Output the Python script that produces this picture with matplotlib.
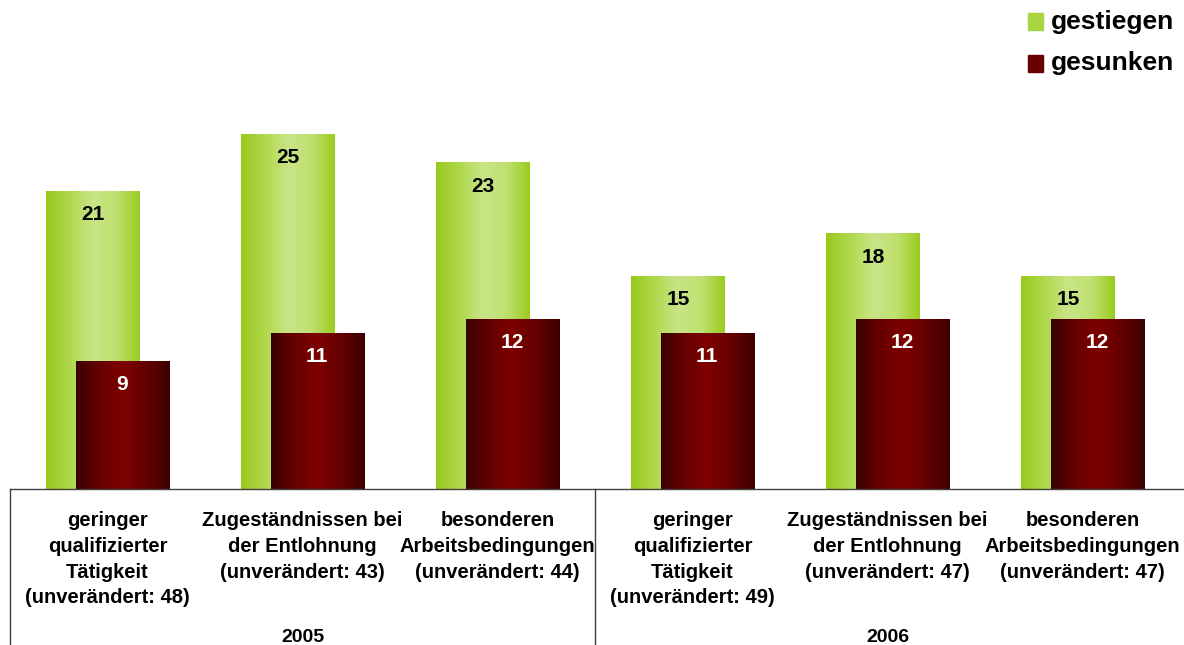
import numpy as np
import matplotlib.pyplot as plt
from matplotlib.colors import LinearSegmentedColormap
from matplotlib.patches import Rectangle

plt.rcParams['font.family'] = ['Liberation Sans', 'DejaVu Sans']
plt.rcParams['font.weight'] = 'bold'

categories = [
    'geringer\nqualifizierter\nTätigkeit\n(unverändert: 48)',
    'Zugeständnissen bei\nder Entlohnung\n(unverändert: 43)',
    'besonderen\nArbeitsbedingungen\n(unverändert: 44)',
    'geringer\nqualifizierter\nTätigkeit\n(unverändert: 49)',
    'Zugeständnissen bei\nder Entlohnung\n(unverändert: 47)',
    'besonderen\nArbeitsbedingungen\n(unverändert: 47)',
]
years = ['2005', '2006']
gestiegen = [21, 25, 23, 15, 18, 15]
gesunken = [9, 11, 12, 11, 12, 12]

green_cmap = LinearSegmentedColormap.from_list(
    'green', ['#98c81c', '#b0d84c', '#c8e587', '#bfe070', '#9acc1e'])
red_cmap = LinearSegmentedColormap.from_list(
    'red', ['#3a0000', '#660000', '#7e0000', '#640000', '#3c0000'])


def gradient_bars(axes, x, heights, width, cmap):
    bars = axes.bar(x, heights, width=width, color='none', edgecolor='none')
    grad = np.linspace(0, 1, 256).reshape(1, -1)
    for bar in bars:
        bx, by = bar.get_x(), bar.get_y()
        bw, bh = bar.get_width(), bar.get_height()
        img = axes.imshow(grad, cmap=cmap, aspect='auto',
                          extent=(bx, bx + bw, by, by + bh), zorder=bar.get_zorder())
        img.set_clip_path(bar)
    return bars


fig = plt.figure(figsize=(11.84, 6.45), dpi=100)
ax = fig.add_axes([10 / 1184, 1 - 489 / 645, 1170 / 1184, 426 / 645])

x = np.arange(len(categories))
offset = 0.0745
width = 0.477

gradient_bars(ax, x - offset, gestiegen, width, green_cmap)
gradient_bars(ax, x + offset, gesunken, width, red_cmap)

for xi, v in zip(x - offset, gestiegen):
    ax.annotate(str(v), (xi, v), xytext=(0, -17), textcoords='offset points',
                ha='center', va='center', fontsize=15, color='black')
for xi, v in zip(x + offset, gesunken):
    ax.annotate(str(v), (xi, v), xytext=(0, -17), textcoords='offset points',
                ha='center', va='center', fontsize=15, color='white')

ax.set_xlim(-0.5, 5.5)
ax.set_ylim(0, 30)
ax.axis('off')

# table box below the bars
ax.plot([-0.5, 5.6], [0, 0], color='#404040', lw=1, clip_on=False)
for xv in (-0.5, 2.5):
    ax.plot([xv, xv], [0, -12], color='#404040', lw=1, clip_on=False)

for xi, label in zip(x, categories):
    ax.text(xi, -1.55, label, ha='center', va='top', fontsize=14.5,
            linespacing=1.45, clip_on=False)
for xi, year in zip([1, 4], years):
    ax.text(xi, -10.45, year, ha='center', va='center', fontsize=14, clip_on=False)

# legend
fig.patches.append(Rectangle((1028 / 1184, 1 - 30 / 645), 15 / 1184, 17 / 645,
                             transform=fig.transFigure, color='#a8d640', figure=fig))
fig.patches.append(Rectangle((1028 / 1184, 1 - 72 / 645), 15 / 1184, 17 / 645,
                             transform=fig.transFigure, color='#6a0000', figure=fig))
fig.text(1051 / 1184, 1 - 22 / 645, 'gestiegen', fontsize=19, va='center')
fig.text(1051 / 1184, 1 - 63 / 645, 'gesunken', fontsize=19, va='center')

plt.savefig('out.png', dpi=100)
